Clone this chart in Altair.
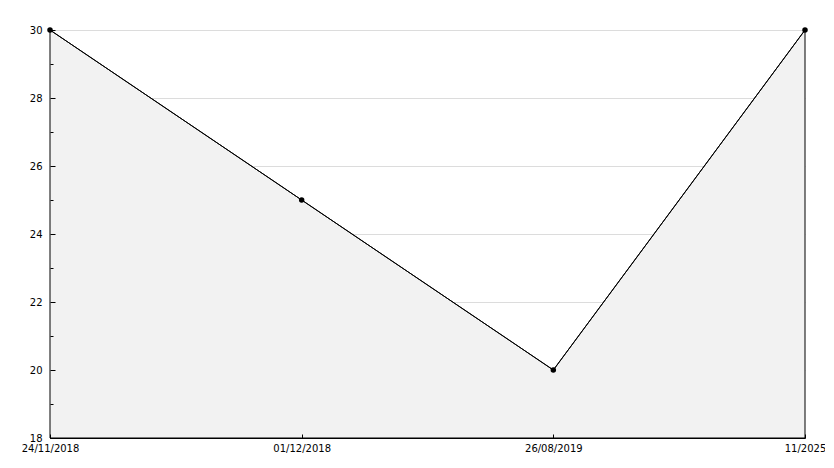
import altair as alt
import pandas as pd

dates = ["24/11/2018", "01/12/2018", "26/08/2019", "11/2025"]
values = [30, 25, 20, 30]
y_major = [18, 20, 22, 24, 26, 28, 30]
y_all = list(range(18, 31))
y_min = 18

df = pd.DataFrame({"date": dates, "value": values})

W, H = 755, 408
FONT = "DejaVu Sans"

x_scale = alt.Scale(type="point", padding=0)
y_scale = alt.Scale(domain=[18, 30], nice=False, zero=False)

base = alt.Chart(df)

area = base.mark_area(color="#f2f2f2", stroke="black", strokeWidth=1).encode(
    x=alt.X("date:N", sort=None, scale=x_scale, title=None,
            axis=alt.Axis(orient="bottom", labelAngle=0, ticks=False, domainColor="black",
                          domainWidth=1, labelPadding=5, labelFont=FONT, labelFontSize=10,
                          labelColor="black", grid=False)),
    y=alt.Y("value:Q", scale=y_scale, title=None,
            axis=alt.Axis(orient="left", values=y_major, ticks=False, domainColor="black",
                          domainWidth=1, labelPadding=8, labelFont=FONT, labelFontSize=10,
                          labelColor="black", grid=True, gridColor="#dcdcdc", gridWidth=1)),
    y2=alt.datum(y_min),
)

line = base.mark_line(color="black", strokeWidth=1).encode(
    x=alt.X("date:N", sort=None, scale=x_scale, title=None,
            axis=alt.Axis(orient="top", offset=-H, labels=False, domain=False, grid=False,
                          tickSize=4, tickColor="black", zindex=1)),
    y=alt.Y("value:Q", scale=y_scale, title=None,
            axis=alt.Axis(orient="right", offset=-W, labels=False, domain=False, grid=False,
                          values=y_all, tickColor="black", zindex=1,
                          tickSize=alt.ExprRef("datum.value % 2 === 0 ? 5 : 3"))),
)

points = base.mark_point(filled=True, color="black", size=30, opacity=1, shape="circle").encode(
    x=alt.X("date:N", sort=None, scale=x_scale, axis=None),
    y=alt.Y("value:Q", scale=y_scale, axis=None),
)

chart = alt.layer(area, line, points).resolve_axis(x="independent", y="independent").properties(
    width=W, height=H, background="white",
    autosize=alt.AutoSizeParams(type="none"),
    padding={"left": 42, "top": 22, "right": 20, "bottom": 22},
).configure_view(stroke=None)

chart.save("out.html", embed_options={"renderer": "svg", "actions": False})
